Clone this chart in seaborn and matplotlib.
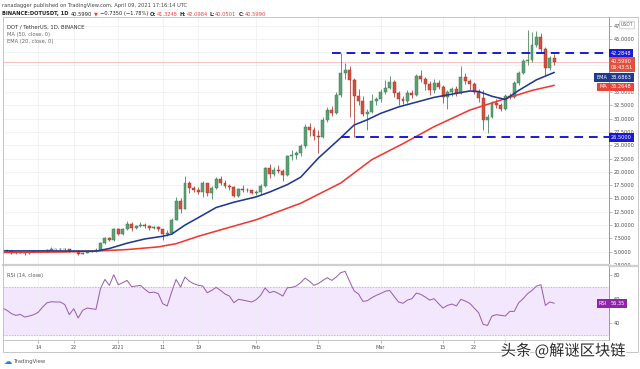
import numpy as np
import pandas as pd
import seaborn as sns
import matplotlib.pyplot as plt
import matplotlib.dates as mdates
import matplotlib.patheffects as pe
from matplotlib.patches import Rectangle
from matplotlib.lines import Line2D

# Daily candles DOT/USDT, 2020-12-06 .. 2021-04-09
dates = pd.date_range('2020-12-06', '2021-04-09', freq='D')
opens = [5.15, 5.25, 5.05, 4.75, 4.95, 4.80, 4.70, 4.95, 5.15, 5.05, 5.10, 5.35, 5.50, 5.45, 5.60, 5.45,
         5.20, 5.15, 4.55, 4.80, 4.90, 5.05, 5.25, 6.60, 7.50, 7.20,
         9.20, 8.40, 9.20, 10.20, 9.40, 9.80, 10.10, 9.80, 9.50, 9.60, 9.20, 8.30, 8.50, 11.00, 14.60, 13.10,
         17.90, 17.00, 16.50, 16.30, 17.90, 16.10, 17.00, 18.70, 17.90, 17.30, 17.20, 15.50, 16.70, 16.60, 16.50,
         16.00, 16.20, 17.30, 20.70, 19.60, 20.40, 20.20, 19.40, 22.90, 23.20, 23.50, 24.80, 28.40, 27.80,
         26.70, 26.50, 29.80, 31.70, 31.00, 34.50, 38.60, 39.10, 37.30, 34.20, 33.30, 30.90, 31.30, 33.30,
         33.60, 35.10, 35.80, 36.80, 34.90, 33.60, 33.30, 34.80, 34.50, 38.00, 37.40, 36.50, 35.40, 36.70,
         36.00, 34.10, 35.00, 35.60, 34.90, 37.80, 37.10, 36.50, 35.10, 33.80, 29.80, 30.40, 33.00, 32.50,
         31.90, 34.20, 34.10,
         36.70, 38.60, 40.80, 41.10, 43.90, 45.40, 43.00, 39.50, 41.32]
highs = [5.35, 5.35, 5.12, 5.02, 5.00, 4.85, 5.00, 5.25, 5.20, 5.20, 5.50, 5.80, 5.60, 5.75, 5.65, 5.55,
         5.30, 5.25, 4.90, 5.00, 5.15, 5.70, 6.80, 7.70, 7.80, 9.40,
         9.50, 9.40, 10.80, 10.50, 10.10, 10.50, 10.30, 10.00, 9.80, 9.80, 9.30, 9.00, 11.30, 15.20, 15.00, 19.30,
         18.30, 17.40, 17.20, 18.20, 18.00, 17.40, 19.00, 19.20, 18.50, 17.70, 17.30, 16.90, 17.50, 17.00, 16.60,
         16.60, 17.80, 21.00, 21.50, 21.00, 21.20, 20.50, 23.20, 24.20, 24.00, 25.20, 29.00, 29.20, 28.40,
         27.80, 30.40, 32.20, 32.30, 35.00, 42.28, 40.50, 39.80, 37.60, 35.60, 34.20, 31.80, 34.70, 34.00,
         35.50, 37.30, 38.00, 37.20, 35.20, 34.30, 35.30, 35.30, 38.30, 39.20, 37.90, 37.00, 37.40, 37.20,
         36.40, 35.30, 36.00, 36.10, 39.80, 38.50, 37.50, 36.90, 35.60, 35.30, 30.90, 33.40, 33.60, 33.00,
         34.60, 34.90, 37.10,
         39.00, 41.20, 46.60, 46.30, 46.40, 46.00, 43.40, 41.80, 42.10]
lows = [5.05, 4.95, 4.65, 4.55, 4.72, 4.45, 4.65, 4.90, 4.98, 4.95, 5.00, 5.25, 5.30, 5.40, 5.30, 5.00,
        4.95, 4.30, 4.50, 4.70, 4.85, 4.95, 5.20, 6.40, 7.00, 7.10,
        8.10, 8.20, 9.00, 8.80, 9.20, 9.60, 9.50, 9.10, 9.30, 8.90, 7.20, 8.00, 8.30, 10.90, 12.30, 13.00,
        16.00, 16.20, 15.90, 15.30, 15.50, 14.90, 16.80, 17.50, 17.00, 16.60, 15.20, 15.30, 16.20, 16.20, 15.80,
        15.60, 15.90, 17.10, 18.80, 19.20, 19.80, 18.20, 19.20, 22.20, 22.50, 23.00, 24.50, 26.80, 26.00,
        23.60, 26.30, 29.40, 30.50, 30.80, 34.00, 37.50, 30.40, 26.50, 32.50, 30.50, 27.90, 31.00, 32.50,
        33.20, 34.60, 35.50, 34.00, 32.50, 32.80, 33.00, 33.90, 34.20, 36.80, 35.30, 34.50, 34.80, 35.60,
        33.00, 31.80, 34.20, 34.30, 34.70, 36.60, 35.30, 34.60, 33.20, 27.90, 27.30, 30.10, 32.00, 31.50,
        31.60, 33.60, 33.90,
        36.30, 38.30, 40.10, 40.70, 43.50, 42.30, 38.00, 39.10, 40.05]
closes = [5.25, 5.05, 4.75, 4.95, 4.80, 4.70, 4.95, 5.15, 5.05, 5.10, 5.35, 5.50, 5.45, 5.60, 5.45, 5.20,
          5.15, 4.55, 4.80, 4.90, 5.05, 5.25, 6.60, 7.50, 7.20, 9.20,
          8.40, 9.20, 10.20, 9.40, 9.80, 10.10, 9.80, 9.50, 9.60, 9.20, 8.30, 8.50, 11.00, 14.60, 13.10, 17.90,
          17.00, 16.50, 16.30, 17.90, 16.10, 17.00, 18.70, 17.90, 17.30, 17.20, 15.50, 16.70, 16.60, 16.50, 16.00,
          16.20, 17.30, 20.70, 19.60, 20.40, 20.20, 19.40, 22.90, 23.20, 23.50, 24.80, 28.40, 27.80, 26.70,
          26.50, 29.80, 31.70, 31.00, 34.50, 38.60, 39.10, 37.30, 34.20, 33.30, 30.90, 31.30, 33.30, 33.60,
          35.10, 35.80, 36.80, 34.90, 33.60, 33.30, 34.80, 34.50, 38.00, 37.40, 36.50, 35.40, 36.70, 36.00,
          34.10, 35.00, 35.60, 34.90, 37.80, 37.10, 36.50, 35.10, 33.80, 29.80, 30.40, 33.00, 32.50, 31.90,
          34.20, 34.10, 36.70,
          38.60, 40.80, 41.10, 43.90, 45.40, 43.00, 39.50, 41.32, 40.60]

rsi_vals = [52.3,
            50.5, 47.7, 46.3, 47.1, 44.9, 45.8, 46.9, 48.8, 53.2, 56.8,
            57.6, 57.4, 57.4, 55.2, 46.9, 51.8, 44.1, 50.5, 52.4, 51.8,
            51.3, 68.4, 76.1, 71.2, 80.0, 71.7, 73.4, 75.3, 70.1, 70.6,
            71.2, 67.9, 65.1, 65.6, 64.3, 56.0, 54.1, 65.6, 76.1, 69.8,
            78.1, 74.5, 72.5, 71.2, 70.6, 65.1, 67.0, 69.5, 67.0, 64.0,
            62.3, 56.8, 59.6, 59.0, 58.2, 57.4, 59.3, 62.9, 69.0, 65.1,
            66.2, 64.5, 62.3, 69.2, 69.5, 70.6, 73.4, 77.2, 74.5, 71.2,
            72.8, 75.3, 77.5, 75.3, 78.1, 81.7, 82.8, 74.5, 66.7, 64.0,
            57.9, 58.5, 61.0, 62.9, 64.5, 66.2, 67.0, 62.1, 57.4, 56.3,
            59.0, 60.1, 64.8, 63.7, 61.5, 59.0, 60.1, 56.0, 52.4, 54.6,
            55.7, 54.1, 59.6, 58.2, 56.3, 52.4, 48.5, 38.9, 38.0, 45.8,
            46.9, 46.3, 45.8, 49.6, 49.6, 56.8, 60.1, 64.3, 67.0, 70.6,
            71.7, 54.6, 57.4, 56.35]

ema_dates = ['2020-12-06', '2020-12-17', '2020-12-27', '2020-12-30', '2021-01-03', '2021-01-07',
             '2021-01-11', '2021-01-13', '2021-01-16', '2021-01-19', '2021-01-23', '2021-01-27',
             '2021-02-01', '2021-02-04', '2021-02-08', '2021-02-11', '2021-02-15', '2021-02-20',
             '2021-02-23', '2021-02-26', '2021-03-01', '2021-03-05', '2021-03-09', '2021-03-13',
             '2021-03-17', '2021-03-21', '2021-03-23', '2021-03-26', '2021-03-29', '2021-04-01',
             '2021-04-05', '2021-04-09']
ema_vals = [5.15, 5.15, 5.10, 5.6, 6.6, 7.4, 7.9, 8.3, 10.0, 11.4, 13.3, 14.3, 15.3, 16.2, 17.6, 19.0,
            22.6, 26.4, 28.8, 29.8, 31.0, 32.2, 33.1, 34.0, 34.6, 35.2, 35.1, 34.2, 33.6, 35.3, 37.3, 38.69]

ma_dates = ['2020-12-06', '2020-12-20', '2020-12-29', '2021-01-03', '2021-01-10', '2021-01-14',
            '2021-01-19', '2021-01-24', '2021-02-01', '2021-02-11', '2021-02-20', '2021-02-27',
            '2021-03-06', '2021-03-13', '2021-03-21', '2021-03-28', '2021-04-04', '2021-04-09']
ma_vals = [4.85, 4.95, 5.2, 5.4, 5.9, 6.5, 7.9, 9.1, 11.0, 14.1, 17.9, 22.3, 25.3, 28.5, 31.6, 33.5,
           35.3, 36.26]

resistance = 42.2848
support = 26.5000
last_price = 40.5990
ema_last = 38.6863
ma_last = 36.2648
rsi_last = 56.35

price_ticks = [2.5, 5.0, 7.5, 10.0, 12.5, 15.0, 17.5, 20.0, 22.5, 25.0, 27.5, 30.0, 32.5, 35.0,
               37.5, 40.0, 42.5, 45.0, 47.5]
hidden_price_ticks = [37.5, 40.0, 42.5]   # covered by the value tags on the right
rsi_ticks = [40, 60, 80]
date_ticks = ['2020-12-14', '2020-12-22', '2021-01-01', '2021-01-11', '2021-01-19', '2021-02-01',
              '2021-02-15', '2021-03-01', '2021-03-15', '2021-03-22', '2021-03-29']
date_labels = ['14', '22', '2021', '11', '19', 'Feb', '15', 'Mar', '15', '22', '29']

df = pd.DataFrame({'date': dates, 'open': opens, 'high': highs, 'low': lows, 'close': closes,
                   'rsi': rsi_vals})
df['x'] = mdates.date2num(df['date'])
up = df['close'] >= df['open']

sns.set_theme(style='white')
plt.rcParams['font.family'] = ['DejaVu Sans', 'Noto Sans CJK SC']

W, H = 640, 369
def fx(px):
    return px / W
def fy(py):
    return 1 - py / H

fig = plt.figure(figsize=(6.4, 3.69), dpi=100)
ax = fig.add_axes([fx(3), fy(265), fx(609) - fx(3), fy(17) - fy(265)])
ax_rsi = fig.add_axes([fx(3), fy(340), fx(609) - fx(3), fy(267) - fy(340)], sharex=ax)

x0 = mdates.date2num(pd.Timestamp('2020-12-07'))
xmax = x0 + 135.3
ax.set_xlim(x0 - 0.9, xmax)
ax.set_ylim(2.56, 49.1)
ax_rsi.set_ylim(25.9, 86.4)

grid_c = '#ededf2'
tick_x = mdates.date2num(pd.to_datetime(date_ticks))
for a in (ax, ax_rsi):
    a.set_xticks(tick_x)
    a.grid(True, axis='x', color=grid_c, lw=0.5)
    a.set_facecolor('white')
    for s in ('left', 'top'):
        a.spines[s].set_visible(False)
    a.spines['right'].set_color('#8a8a8a')
    a.spines['right'].set_linewidth(0.6)
    a.yaxis.tick_right()
    a.tick_params(axis='y', labelsize=3.6, labelcolor='#4a4a4a', length=2, width=0.4,
                  color='#8a8a8a', pad=1.5, right=True)

ax.set_yticks(price_ticks)
ax.set_yticklabels(['' if t in hidden_price_ticks else f'{t:.4f}' for t in price_ticks])
ax.grid(True, axis='y', color=grid_c, lw=0.5)
ax.tick_params(axis='x', labelbottom=False, length=0)
ax.spines['bottom'].set_color('#cfcfcf')
ax.spines['bottom'].set_linewidth(1.6)

# candles
green_f, green_e = '#5ca074', '#3d7d55'
red_f, red_e = '#d2503f', '#a8372a'
wick_c = np.where(up, green_e, red_e)
ax.vlines(df['x'], df['low'], df['high'], colors=wick_c, lw=0.55, zorder=2)
body_b = df[['open', 'close']].min(axis=1)
body_h = (df['close'] - df['open']).abs().clip(lower=0.06)
ax.bar(df['x'], body_h, bottom=body_b, width=0.66,
       color=np.where(up, green_f, red_f), edgecolor=wick_c, linewidth=0.35, zorder=3)

# moving averages
sns.lineplot(x=mdates.date2num(pd.to_datetime(ma_dates)), y=ma_vals, ax=ax, color='#ee3b32',
             lw=1.15, estimator=None, zorder=4)
sns.lineplot(x=mdates.date2num(pd.to_datetime(ema_dates)), y=ema_vals, ax=ax, color='#1f3a8f',
             lw=1.15, estimator=None, zorder=4)

# horizontal levels
dash = (0, (4.5, 3))
ax.hlines(resistance, x0 + 73, xmax, colors='#1a1ad4', lw=1.4, linestyles=[dash], zorder=5)
ax.hlines(support, x0 + 75, xmax, colors='#1a1ad4', lw=1.4, linestyles=[dash], zorder=5)
ax.axhline(last_price, color='#f3a9a2', lw=0.5, zorder=1)

# RSI panel
ax_rsi.axhspan(30, 70, color='#f3e7fd', zorder=0)
for lvl in (30, 70):
    ax_rsi.axhline(lvl, color='#b9a9c2', lw=0.5, ls=(0, (2, 2)), zorder=1)
sns.lineplot(data=df, x='x', y='rsi', ax=ax_rsi, color='#9a62b2', lw=0.75, estimator=None, zorder=3)
ax_rsi.set_yticks(rsi_ticks)
ax_rsi.set_yticklabels([str(t) for t in rsi_ticks])
ax_rsi.set_xticklabels(date_labels)
ax_rsi.tick_params(axis='x', labelsize=3.6, labelcolor='#555555', length=2, width=0.4,
                   color='#8a8a8a', pad=1.5, bottom=True)
ax_rsi.spines['bottom'].set_color('#bdbdbd')
ax_rsi.spines['bottom'].set_linewidth(0.6)
for a in (ax, ax_rsi):
    a.set_xlabel('')
    a.set_ylabel('')


def tag(axis, y, text, fc, off=(1.5, 0), ha='left', va='center'):
    axis.annotate(text, xy=(1, y), xycoords=('axes fraction', 'data'), xytext=off,
                  textcoords='offset points', ha=ha, va=va, fontsize=3.6, color='white',
                  bbox=dict(boxstyle='square,pad=0.35', fc=fc, ec='none'),
                  annotation_clip=False, zorder=10)


tag(ax, resistance, f'{resistance:.4f}', '#1a1ad4')
tag(ax, last_price, f'{last_price:.4f}\n06:43:51', '#df5240', off=(1.5, 2.2), va='top')
tag(ax, ema_last, f'{ema_last:.4f}', '#1f3a8f', off=(1.5, -3.6))
tag(ax, ema_last, 'EMA', '#1f3a8f', off=(-1.5, -3.6), ha='right')
tag(ax, ma_last, f'{ma_last:.4f}', '#e8453a', off=(1.5, -1.2))
tag(ax, ma_last, 'MA', '#e8453a', off=(-1.5, -1.2), ha='right')
tag(ax, support, f'{support:.4f}', '#1a1ad4')
tag(ax_rsi, rsi_last, f'{rsi_last:.2f}', '#8e24aa')
tag(ax_rsi, rsi_last, 'RSI', '#8e24aa', off=(-1.5, 0), ha='right')

fig.text(fx(627), fy(25), 'USDT', fontsize=3.3, color='#666666', ha='center', va='center',
         bbox=dict(boxstyle='round,pad=0.3', fc='white', ec='#b0b0b0', lw=0.4))

# header
fig.text(fx(2), fy(5), 'ranadagger published on TradingView.com, April 09, 2021 17:16:14 UTC',
         fontsize=3.7, color='#444444', va='center')
pieces = [('BINANCE:DOTUSDT, 1D', '#222222', 'bold'), ('40.5990', '#222222', 'normal'),
          ('\u25bc', '#e0453a', 'normal'), ('\u22120.7350 (\u22121.78%)', '#222222', 'normal'),
          ('O:', '#222222', 'bold'), ('41.3248', '#e0453a', 'normal'),
          ('H:', '#222222', 'bold'), ('42.0984', '#e0453a', 'normal'),
          ('L:', '#222222', 'bold'), ('40.0501', '#e0453a', 'normal'),
          ('C:', '#222222', 'bold'), ('40.5990', '#e0453a', 'normal')]
prev = fig.text(fx(2), fy(14), pieces[0][0], fontsize=3.7, color=pieces[0][1],
                weight=pieces[0][2], va='center')
for i, (s, c, w) in enumerate(pieces[1:]):
    gap = 0.3 if s[0] in '0123456789' and pieces[i][0].endswith(':') else 1.4
    prev = ax.annotate(s, xy=(1, 0.5), xycoords=prev, xytext=(gap, 0), textcoords='offset points',
                       fontsize=3.7, color=c, weight=w, va='center', ha='left',
                       annotation_clip=False)

fig.text(fx(7), fy(27), 'DOT / TetherUS, 1D, BINANCE', fontsize=3.8, color='#333333', va='center')
fig.text(fx(7), fy(34.5), 'MA (50, close, 0)', fontsize=3.7, color='#666666', va='center')
fig.text(fx(7), fy(42), 'EMA (20, close, 0)', fontsize=3.7, color='#666666', va='center')
fig.text(fx(7), fy(275), 'RSI (14, close)', fontsize=3.6, color='#555555', va='center')

fig.add_artist(Rectangle((fx(3), fy(352)), fx(638) - fx(3), fy(17) - fy(352),
                         transform=fig.transFigure, fill=False, ec='#bdbdbd', lw=0.6))
fig.add_artist(Line2D([fx(609), fx(638)], [fy(266), fy(266)], transform=fig.transFigure,
                      color='#cfcfcf', lw=1.6))

fig.text(fx(4), fy(361), '\u2601', fontsize=6, color='#2a7fd4', va='center')
fig.text(fx(14), fy(361), 'TradingView', fontsize=3.8, color='#555555', va='center')

fig.text(fx(563), fy(351), '头条 @解谜区块链', fontsize=11,
         family=['Noto Sans CJK SC', 'DejaVu Sans'], color='#2b2b2b', ha='center', va='center',
         path_effects=[pe.withStroke(linewidth=2, foreground='white')])

fig.savefig('out.png', dpi=100)
